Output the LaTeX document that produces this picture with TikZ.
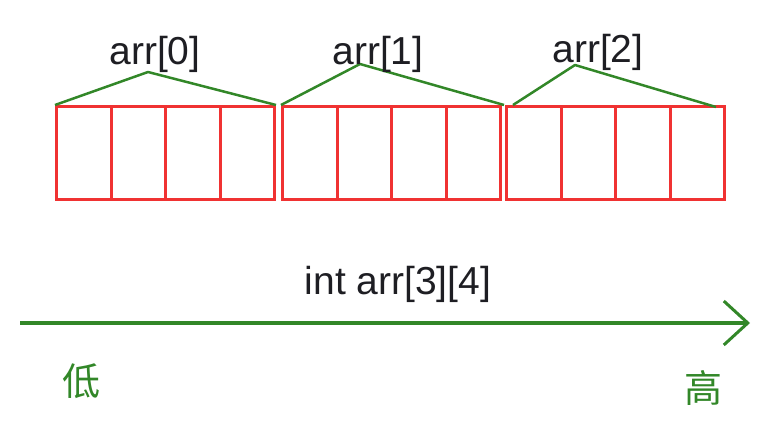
\documentclass[tikz,border=0pt]{standalone}
\usepackage{fontspec}
\setmainfont{Liberation Sans}
\newfontfamily\cjk{Noto Sans CJK SC}
\usetikzlibrary{arrows.meta}
\definecolor{cellred}{RGB}{240,50,50}
\definecolor{linegreen}{RGB}{50,135,40}
\definecolor{txtdark}{RGB}{30,30,35}
\begin{document}
\begin{tikzpicture}[x=1pt,y=-1pt,
  cell/.style={draw=cellred,line width=3pt,minimum width=54.5pt,minimum height=93pt,inner sep=0pt,anchor=north west},
  brace/.style={draw=linegreen,line width=2.5pt,line join=round},
  lbl/.style={text=txtdark,font=\fontsize{39}{40}\selectfont,inner sep=0pt},
  cjklbl/.style={text=linegreen,font=\cjk\fontsize{38}{40}\selectfont,inner sep=0pt},
  axis/.style={draw=linegreen,line width=3.5pt,-{Straight Barb[length=24pt,width=44pt,line width=3pt]}}]
\useasboundingbox (0,0) rectangle (773,437);
% cells
\foreach \g/\sx in {0/55,1/281,2/505}{
  \foreach \c in {0,1,2,3}{
    \node[cell] (g\g c\c) at ({\sx+54.5*\c},105) {};
  }
}
% peaks
\coordinate (p0) at (148,72);
\coordinate (p1) at (360,64);
\coordinate (p2) at (575,65);
\draw[brace] (g0c0.north west) -- (p0) -- (g0c3.north east);
\draw[brace] (g1c0.north west) -- (p1) -- ([xshift=2pt]g1c3.north east);
\draw[brace] ([xshift=8pt]g2c0.north west) -- (p2) -- ([xshift=-10pt,yshift=-2pt]g2c3.north east);
% labels
\node[lbl] (l0) at (155,54) {arr[0]};
\node[lbl] (l1) at (378,54) {arr[1]};
\node[lbl] (l2) at (598,52) {arr[2]};
\node[lbl] (decl) at (398,284) {int arr[3][4]};
% axis
\coordinate (lo) at (20,323);
\coordinate (hi) at (750,323);
\draw[axis] (lo) -- (hi);
\node[cjklbl] (low) at (81,381) {低};
\node[cjklbl] (high) at (703,388) {高};
\end{tikzpicture}
\end{document}
